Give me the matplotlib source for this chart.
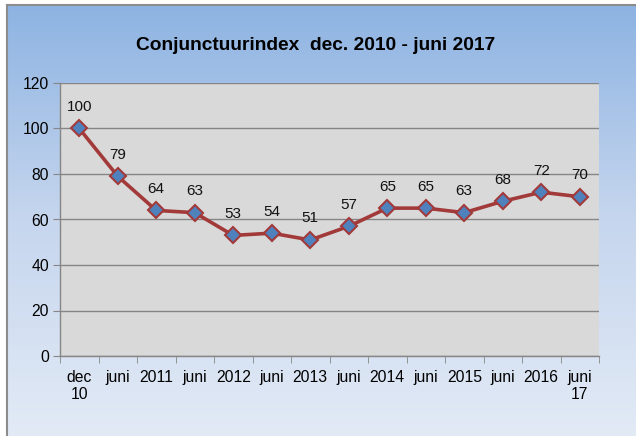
import numpy as np
import matplotlib
matplotlib.use("Agg")
import matplotlib.pyplot as plt
from matplotlib.colors import LinearSegmentedColormap

plt.rcParams['font.family'] = ['Liberation Sans', 'DejaVu Sans']

categories = ["dec\n10", "juni", "2011", "juni", "2012", "juni", "2013",
              "juni", "2014", "juni", "2015", "juni", "2016", "juni\n17"]
values = [100, 79, 64, 63, 53, 54, 51, 57, 65, 65, 63, 68, 72, 70]
title = "Conjunctuurindex  dec. 2010 - juni 2017"
yticks = [0, 20, 40, 60, 80, 100, 120]

W, H = 636, 436
fig = plt.figure(figsize=(W / 100, H / 100), dpi=100)
fig.patch.set_facecolor("white")

# background gradient
bg = fig.add_axes([7 / W, 0, 1 - 7 / W, 1 - 5 / H])
cmap = LinearSegmentedColormap.from_list("bg", ["#8DB3E2", "#C6D6EE", "#E2EAF6"])
grad = np.linspace(0, 1, 256).reshape(-1, 1)
bg.imshow(grad, aspect="auto", cmap=cmap, extent=[0, 1, 0, 1], origin="upper")
bg.set_xlim(0, 1)
bg.set_ylim(0, 1)
bg.axis("off")
fig.add_artist(plt.Line2D([7 / W, 7 / W], [0, 1 - 5 / H], color="#8C8C8C", lw=1.5,
                          transform=fig.transFigure))
fig.add_artist(plt.Line2D([7 / W, 1], [1 - 5 / H, 1 - 5 / H], color="#8C8C8C", lw=1.5,
                          transform=fig.transFigure))

left, right, top, bottom = 60, 599, 83, 356
ax = fig.add_axes([left / W, 1 - bottom / H, (right - left) / W, (bottom - top) / H])
ax.set_facecolor("#D9D9D9")

x = np.arange(len(values))
ax.plot(x, values, color="#A33A3A", lw=2.6, marker="D", markersize=8.5,
        markerfacecolor="#4F81BD", markeredgecolor="#A33A3A", markeredgewidth=1.5,
        zorder=3)
for xi, v in zip(x, values):
    ax.annotate(str(v), (xi, v), xytext=(0, 15.5), textcoords="offset points",
                ha="center", va="center", fontsize=11, color="#111111")

ax.set_xlim(-0.5, len(values) - 0.5)
ax.set_ylim(0, 120)
ax.set_yticks(yticks)
ax.set_yticklabels([str(t) for t in yticks], fontsize=11.3)
ax.yaxis.grid(True, color="#868686", lw=1)
ax.set_axisbelow(True)

ax.set_xticks(x)
ax.set_xticklabels(categories, fontsize=11.3, linespacing=1.15, va="top")
ax.set_xticks(np.arange(len(values) + 1) - 0.5, minor=True)
ax.tick_params(axis="x", which="major", length=0, pad=10)
ax.tick_params(axis="x", which="minor", length=5, color="#868686", direction="out")
ax.tick_params(axis="y", length=5, color="#868686", pad=3)

for s in ["top", "right"]:
    ax.spines[s].set_visible(False)
for s in ["left", "bottom"]:
    ax.spines[s].set_color("#868686")
    ax.spines[s].set_linewidth(1)

fig.text(316 / W, 1 - 45 / H, title, ha="center", va="center",
         fontsize=13.8, fontweight="bold")

fig.savefig("out.png", dpi=100)
